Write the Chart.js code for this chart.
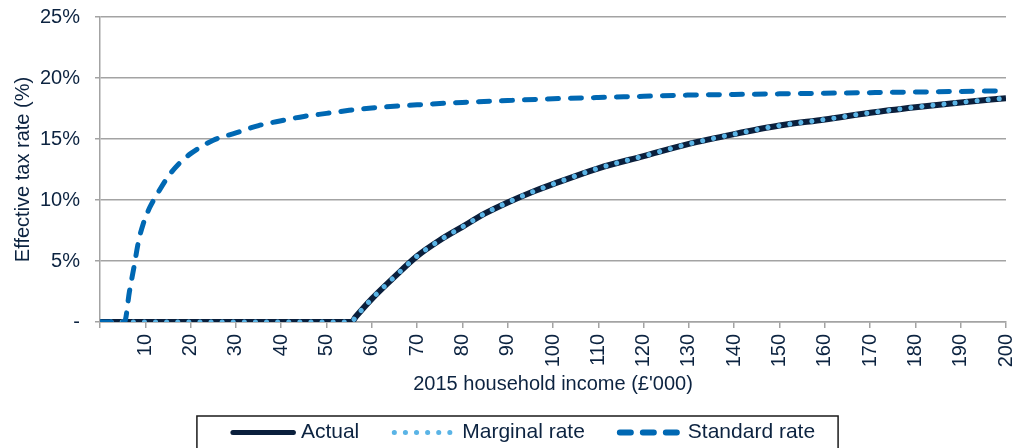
<!DOCTYPE html>
<html>
<head>
<meta charset="utf-8">
<script src="https://cdn.jsdelivr.net/npm/chart.js@4.4.1/dist/chart.umd.min.js"></script>
<style>
  html, body { margin: 0; padding: 0; background: #fff; }
  #wrap { width: 1021px; height: 448px; }
</style>
</head>
<body>
<div id="wrap"><canvas id="chart"></canvas></div>
<script>
// income in £'000, rates in %
var stdIncome = [0, 5, 5.4, 6.5, 7.5, 8.5, 9.5, 11, 12.5, 15, 17.5, 20, 25, 30, 35, 40, 45, 50, 55, 60,
                 70, 80, 90, 100, 110, 120, 130, 140, 150, 160, 170, 180, 190, 200];
var standardRate = [0, 0, 0, 2.5, 4.5, 6.6, 8.0, 9.4, 10.4, 11.9, 13.0, 13.8, 14.9, 15.5, 16.1, 16.5, 16.85, 17.1, 17.35, 17.55,
                    17.8, 18.0, 18.15, 18.3, 18.4, 18.5, 18.6, 18.65, 18.7, 18.75, 18.8, 18.85, 18.9, 18.95];

var actIncome = [0, 55.5, 56.5, 60, 65, 70, 75, 80, 85, 90, 95, 100, 110, 120, 130, 140, 150, 160, 170, 180, 190, 200];
var actualRate = [0, 0, 0.45, 1.9, 3.7, 5.4, 6.7, 7.8, 8.9, 9.8, 10.6, 11.3, 12.6, 13.6, 14.6, 15.4, 16.1, 16.6, 17.15, 17.6, 18.0, 18.35];
var marginalRate = [0, 0, 0.45, 1.9, 3.7, 5.4, 6.7, 7.8, 8.9, 9.8, 10.6, 11.3, 12.6, 13.6, 14.6, 15.4, 16.1, 16.6, 17.15, 17.6, 18.0, 18.35];

var yTicks = ['-', '5%', '10%', '15%', '20%', '25%'];

var textCol = '#0c2340';
var gridCol = '#a3a3a3';
var fam = 'Liberation Sans, Arial';

function pts(xs, ys) {
  return xs.map(function(x, i) { return {x: x, y: ys[i]}; });
}

// legend: draw the line samples and the frame ourselves
var legendLines = {
  id: 'legendLines',
  afterDraw: function(chart) {
    var lg = chart.legend, ctx = chart.ctx;
    if (!lg || !lg.legendHitBoxes.length) return;
    var bw = lg.options.labels.boxWidth;
    ctx.save();
    lg.legendItems.forEach(function(item, i) {
      var hb = lg.legendHitBoxes[i];
      var ds = chart.data.datasets[item.datasetIndex];
      var y = hb.top + hb.height / 2;
      ctx.beginPath();
      ctx.strokeStyle = ds.borderColor;
      ctx.lineWidth = ds.legendWidth;
      ctx.lineCap = 'round';
      ctx.setLineDash(ds.borderDash || []);
      ctx.moveTo(hb.left + 27, y);
      ctx.lineTo(hb.left + bw + 3, y);
      ctx.stroke();
    });
    var first = lg.legendHitBoxes[0], last = lg.legendHitBoxes[lg.legendHitBoxes.length - 1];
    var l = first.left + 25 - 34, r = last.left + last.width + 23;
    ctx.setLineDash([]);
    ctx.lineWidth = 1.5;
    ctx.strokeStyle = '#1a1a1a';
    ctx.strokeRect(l, lg.top + 2, r - l, chart.height);
    ctx.restore();
  }
};

new Chart(document.getElementById('chart'), {
  type: 'line',
  data: {
    datasets: [{
      label: 'Actual',
      data: pts(actIncome, actualRate),
      borderColor: '#0a1f3c',
      borderWidth: 6,
      legendWidth: 5,
      order: 2
    }, {
      label: 'Marginal rate',
      data: pts(actIncome, marginalRate),
      borderColor: '#5ab4e6',
      borderWidth: 5,
      legendWidth: 5,
      borderDash: [0.1, 11],
      borderCapStyle: 'round',
      order: 1
    }, {
      label: 'Standard rate',
      data: pts(stdIncome, standardRate),
      borderColor: '#0068b3',
      borderWidth: 5,
      legendWidth: 6,
      borderDash: [11, 12],
      borderCapStyle: 'round',
      order: 0
    }]
  },
  options: {
    responsive: true,
    maintainAspectRatio: false,
    animation: false,
    layout: { padding: { top: 17, right: 0, left: 0, bottom: -5 } },
    elements: {
      point: { radius: 0 },
      line: { cubicInterpolationMode: 'monotone', fill: false }
    },
    scales: {
      x: {
        type: 'linear',
        min: 0, max: 200,
        ticks: {
          stepSize: 10, autoSkip: false, minRotation: 90, maxRotation: 90,
          color: textCol, font: { size: 20, family: fam }, padding: 6,
          callback: function(v) { return v === 0 ? '' : v; }
        },
        grid: { drawOnChartArea: false, drawTicks: true, tickLength: 6, color: gridCol, lineWidth: 1.5 },
        border: { color: gridCol, width: 1.5 },
        title: {
          display: true, text: "2015 household income (£'000)", color: textCol,
          font: { size: 20, family: fam }, padding: { top: 0, bottom: 18 }
        },
        afterFit: function(s) { s.height = 92; s.paddingLeft = 0; s.paddingRight = 15; }
      },
      y: {
        min: 0, max: 25,
        ticks: {
          stepSize: 5, color: textCol, font: { size: 20, family: fam }, padding: 15,
          callback: function(v) { return yTicks[v / 5]; }
        },
        grid: { color: gridCol, lineWidth: 1.5, tickLength: 5 },
        border: { color: gridCol, width: 1.5 },
        title: {
          display: true, text: 'Effective tax rate (%)', color: textCol,
          font: { size: 20, family: fam }, padding: { top: 11, bottom: 0 }
        },
        afterFit: function(s) { s.width = 100; s.paddingTop = 0; s.paddingBottom = 0; }
      }
    },
    plugins: {
      tooltip: { enabled: false },
      legend: {
        position: 'bottom',
        labels: {
          boxWidth: 84.5, boxHeight: 4, padding: 8,
          color: textCol, font: { size: 21, family: fam },
          sort: function(a, b) { return a.datasetIndex - b.datasetIndex; },
          generateLabels: function(chart) {
            return Chart.defaults.plugins.legend.labels.generateLabels(chart).map(function(it) {
              it.fillStyle = 'rgba(0,0,0,0)';
              it.strokeStyle = 'rgba(0,0,0,0)';
              it.lineWidth = 0;
              it.lineDash = [];
              return it;
            });
          }
        }
      }
    }
  },
  plugins: [legendLines]
});
</script>
</body>
</html>
